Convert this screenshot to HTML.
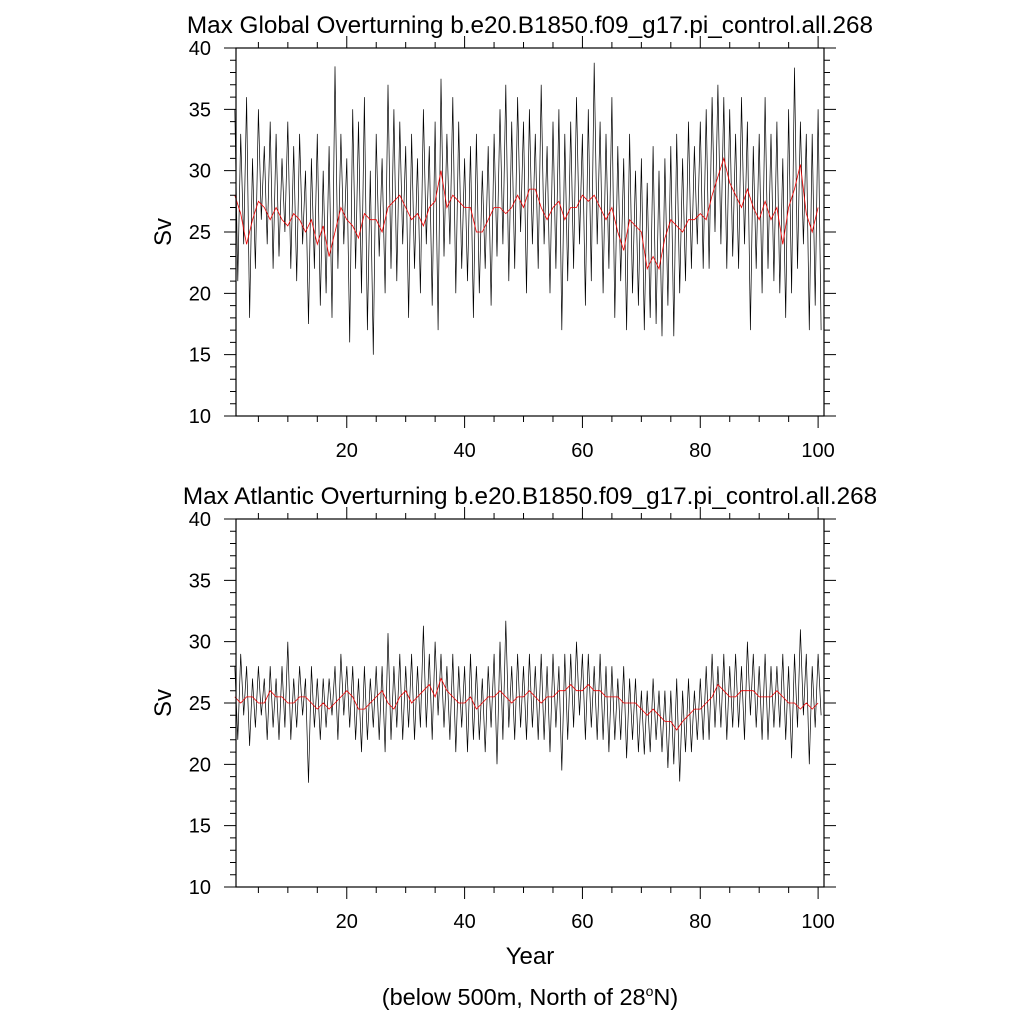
<!DOCTYPE html>
<html><head><meta charset="utf-8"><style>
html,body{margin:0;padding:0;background:#fff}
svg{display:block;font-family:"Liberation Sans",Arial,sans-serif}
</style></head><body>
<svg id="c" width="1024" height="1024" viewBox="0 0 1024 1024">
<text x="530" y="33" font-size="24.3" text-anchor="middle">Max Global Overturning b.e20.B1850.f09_g17.pi_control.all.268</text>
<text x="530" y="504" font-size="24.3" text-anchor="middle">Max Atlantic Overturning b.e20.B1850.f09_g17.pi_control.all.268</text>
<text x="530" y="964" font-size="24" text-anchor="middle">Year</text>
<text x="530" y="1005" font-size="23.5" text-anchor="middle">(below 500m, North of 28<tspan dy="-9" font-size="14">o</tspan><tspan dy="9">N)</tspan></text>
</svg>
<script>
const yTicks=[10,15,20,25,30,35,40];
const xTicks=[20,40,60,80,100];
const globalRaw=[35,21,33,24,36,18,31,22,35,26,32,24,34,22,33,23,31,25,34,22,
32,21,33,24,30,17.5,31,22,33,19,30,20,32,18,38.5,22,33,24,31,16,
35,22,34,20,36,17,30,15,33,23,31,20,37,22,35,21,34,24,32,18,
33,22,31,20,35,24,32,19,34,17,37.5,23,33,24,36,20,34,22,31,21,
32,18,33,20,30,22,32,19,33,23,35,24,37,21,34,22,36,25,34,20,
35,24,33,22,37,24,32,20,34,22,35,17,33,21,34,22,36,24,33,19,
35,21,38.8,24,34,20,33,22,36,18,32,21,31,17,33,20,30,19,31,17,
29,18,32,17.5,30,16.5,31,19,32,16.5,33,20,31,21,34,22,32,24,34,22,
35,22,36,25,37,24,36,22,35,23,33,22,36,24,34,17,32,22,33,20,
36,22,33,21,34,20,31,18,35,20,38.4,22,34,24,33,17,33,19,35,17];
const globalSmooth=[28,26.5,24,26,27.5,27,26,27,26,25.5,26.5,26,25,26,24,25.5,23,25,27,26,
25.5,24.5,26.5,26,26,25,27,27.5,28,27,26,26.5,25.5,27,27.5,30,27,28,27.5,27,
27,25,25,26,27,27,26.5,27,28,27,28.5,28.5,27,26,27,27.5,26,27,27,28,
27.5,28,27,26,27,25,23.5,26,25.5,25,22,23,22,24.5,26,25.5,25,26,26,26.5,
26,28,29.5,31,29,28,27,28.5,27,26,27.5,26,27,24,27,28.5,30.5,26.5,25,27];
const atlRaw=[28,22,29,24,28,21.5,27,23,28,24,27,22,28,23,27,22,28,23,30,22,
27,23,28,24,27,18.5,28,23,27,22,27,23,27,24,28,22,29,24,28,23,
28,22,27,21,28,22,27,23,28,22,28,21,30.7,22,28,23,29,22,28,23,
29,22,28,23,31.3,23,29,22,30,24,29,23,28,22,29,21,28,23,28,21,
29,22,28,22,27,21,28,23,29,20,30,22,31.7,23,28,22,29,23,28,22,
29,23,28,22,29,22,28,21,29,23,28,19.5,29,22,29,23,30,24,29,22,
29,23,28,22,29,22,28,21,28,22,27,22,28,20.5,27,22,27,21,26,20.8,
26,21,27,22,26,21,26,19.7,26,20,27,18.6,26,21,27,21,26,22,27,22,
28,22,29,23,28,23,29,22,28,23,29,23,28,22,30,24,29,23,28,22,
29,22,28,23,28,23,29,22,28,20.5,29,23,31,24,29,20,28,23,29,24];
const atlSmooth=[25.5,25,25.5,25.5,25,25,26,25.5,25.5,25,25,25.5,25.5,25,24.5,25,24.5,25,25.5,26,
25.5,24.5,24.5,25,25.5,26,25,24.5,25.5,26,25,25.5,26,26.5,25.5,27,26,25.5,25,25,
25.5,24.5,25,25.5,25.5,26,25.5,25,25.5,25.5,26,25.5,25,25.5,25.5,26,26,26.5,26,26,
26.5,26,26,25.5,25.5,25.5,25,25,25,24.5,24,24.5,24,23.5,23.5,22.8,23.5,24,24.5,24.5,
25,25.5,26.5,26,25.5,25.5,26,26,26,25.5,25.5,25.5,26,25.5,25,25,24.5,25,24.5,25];

const NS='http://www.w3.org/2000/svg';
const svg=document.getElementById('c');
const L=236,R=824,XMIN=1.2,XMAX=101;
function mk(t,a,parent){const e=document.createElementNS(NS,t);for(const k in a)e.setAttribute(k,a[k]);(parent||svg).appendChild(e);return e;}
function panel(top,bot,raw,smooth,prefix){
  const sx=v=>L+(v-XMIN)/(XMAX-XMIN)*(R-L);
  const sy=v=>bot-(v-10)/30*(bot-top);
  const g=mk('g',{});
  
  
  let d='';
  raw.forEach((v,i)=>{d+=(i?'L':'M')+sx(1+i/2).toFixed(1)+','+sy(v).toFixed(1);});
  const p=mk('path',{d:d,fill:'none',stroke:'#000','stroke-width':0.7},g);
  
  
  d='';
  smooth.forEach((v,i)=>{d+=(i?'L':'M')+sx(1+i).toFixed(1)+','+sy(v).toFixed(1);});
  const r=mk('path',{d:d,fill:'none',stroke:'#e00','stroke-width':0.8},g);
  
  
  const f=mk('rect',{x:L,y:top,width:R-L,height:bot-top,fill:'none',stroke:'#000','stroke-width':1.2},g);
  
  
  let td='';
  for(let v=10;v<=40;v+=1){
    const y=sy(v),len=(v%5===0)?12:6;
    td+=`M${L},${y}h${-len}M${R},${y}h${len}`;
  }
  for(let v=5;v<=100;v+=5){
    const x=sx(v);if(x<L)continue;const len=(v%20===0)?12:6;
    td+=`M${x},${bot}v${len}M${x},${top}v${-len}`;
  }
  const t=mk('path',{d:td,stroke:'#000','stroke-width':1,fill:'none'},g);
  
  
  yTicks.forEach(v=>{
    const e=mk('text',{x:211,y:sy(v)+7,'font-size':20,'text-anchor':'end'},g);
    e.textContent=v;
    
    
  });
  xTicks.forEach(v=>{
    const e=mk('text',{x:sx(v),y:bot+41,'font-size':20,'text-anchor':'middle'},g);
    e.textContent=v;
    
    
  });
  const yl=mk('text',{x:0,y:0,'font-size':24,'text-anchor':'middle',transform:`translate(171,${(top+bot)/2}) rotate(-90)`},g);
  yl.textContent='Sv';
  
  
}
panel(48,416,globalRaw,globalSmooth,'global');
panel(519,887,atlRaw,atlSmooth,'atlantic');
</script>
</body></html>
